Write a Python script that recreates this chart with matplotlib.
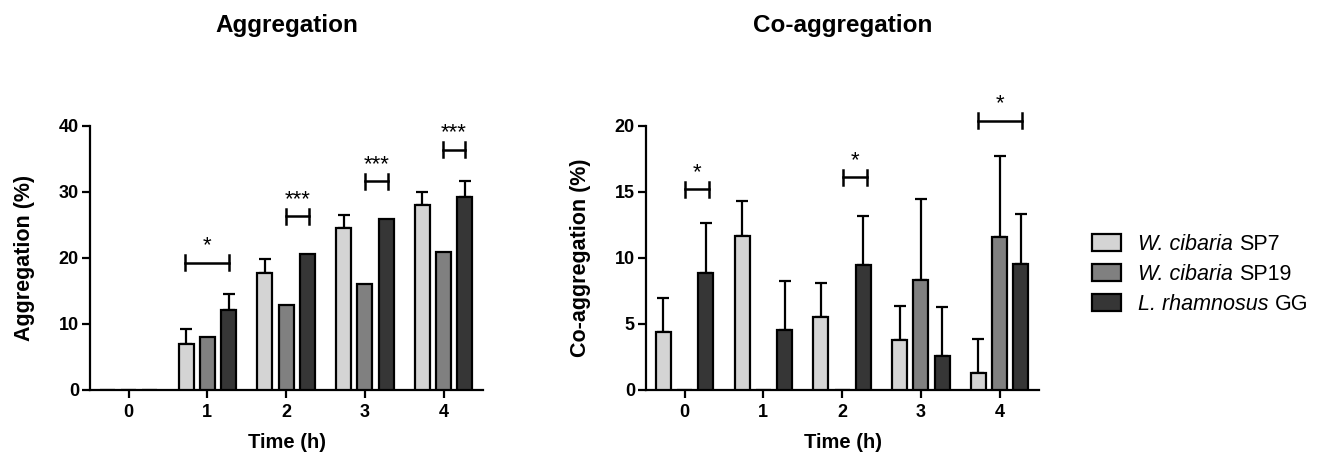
import numpy as np
import matplotlib
matplotlib.use("Agg")
import matplotlib.pyplot as plt
from matplotlib.patches import Rectangle

plt.rcParams['font.family'] = ['Liberation Sans', 'DejaVu Sans']

# data
tiempos = [0, 1, 2, 3, 4]
cepas_it = ['W. cibaria', 'W. cibaria', 'L. rhamnosus']
cepas_cod = ['SP7', 'SP19', 'GG']
colores = ['#d4d4d4', '#808080', '#363636']

agg_sp7 = [0, 6.9, 17.7, 24.6, 28.1]
agg_sp7_err = [0, 2.3, 2.2, 1.9, 1.9]
agg_sp19 = [0, 8.1, 12.9, 16.1, 20.9]
agg_sp19_err = [0, 0, 0, 0, 0]
agg_lgg = [0, 12.1, 20.6, 25.9, 29.3]
agg_lgg_err = [0, 2.4, 0, 0, 2.4]

coagg_sp7 = [4.4, 11.7, 5.5, 3.8, 1.3]
coagg_sp7_err = [2.6, 2.6, 2.6, 2.6, 2.6]
coagg_sp19 = [0, 0, 0, 8.3, 11.6]
coagg_sp19_err = [0, 0, 0, 6.2, 6.1]
coagg_lgg = [8.9, 4.55, 9.5, 2.6, 9.55]
coagg_lgg_err = [3.75, 3.7, 3.7, 3.7, 3.75]

# brackets de significancia: (tiempo, inicio, fin, altura, etiqueta)
agg_sig = [(1, -0.29, 0.28, 19.3, '*'), (2, 0.0, 0.29, 26.3, '***'),
           (3, 0.0, 0.29, 31.6, '***'), (4, -0.01, 0.27, 36.4, '***')]
coagg_sig = [(0, 0.01, 0.31, 15.2, '*'), (2, 0.01, 0.32, 16.1, '*'),
             (4, -0.28, 0.29, 20.4, '*')]

ancho = 0.19
desp = [-0.27, 0.0, 0.27]
W, H = 1320, 455


def dibujar(ax, series, errores, sig, ymax, paso, tick_h, ylabel):
    x = np.arange(len(tiempos))
    for i in range(3):
        ax.bar(x + desp[i], series[i], width=ancho, color=colores[i],
               edgecolor='black', linewidth=1.6, zorder=3)
        for xi, v, e in zip(x, series[i], errores[i]):
            if v > 0 and e > 0:
                ax.errorbar(xi + desp[i], v, yerr=[[0], [e]], fmt='none',
                            ecolor='black', elinewidth=1.6, capsize=4.5,
                            capthick=1.6, zorder=2)
    for t, a, b, h, lab in sig:
        ax.plot([t + a, t + a], [h - tick_h, h + tick_h], color='black', lw=1.8, clip_on=False)
        ax.plot([t + b, t + b], [h - tick_h, h + tick_h], color='black', lw=1.8, clip_on=False)
        ax.plot([t + a, t + b], [h, h], color='black', lw=1.8, clip_on=False)
        ax.text(t + (a + b) / 2, h + tick_h * 0.9, lab, ha='center', va='bottom',
                fontsize=16, clip_on=False)
    ax.set_xlim(-0.49, 4.5)
    ax.set_ylim(0, ymax)
    ax.set_xticks(x)
    ax.set_xticklabels([str(t) for t in tiempos])
    ax.set_yticks(np.arange(0, ymax + 0.1, paso))
    ax.spines['top'].set_visible(False)
    ax.spines['right'].set_visible(False)
    for s in ['left', 'bottom']:
        ax.spines[s].set_linewidth(1.6)
    ax.tick_params(width=1.6, length=6, labelsize=13)
    ax.tick_params(axis='y', pad=2)
    ax.tick_params(axis='x', pad=4)
    for lbl in ax.get_xticklabels() + ax.get_yticklabels():
        lbl.set_fontweight('bold')
    ax.set_xlabel('Time (h)', fontsize=14.5, fontweight='bold', labelpad=9)
    ax.set_ylabel(ylabel, fontsize=15.5, fontweight='bold', labelpad=17)


fig = plt.figure(figsize=(13.2, 4.55), dpi=100)
ax1 = fig.add_axes([90 / W, 65 / H, 393 / W, 264 / H])
ax2 = fig.add_axes([646 / W, 65 / H, 393 / W, 264 / H])

dibujar(ax1, [agg_sp7, agg_sp19, agg_lgg], [agg_sp7_err, agg_sp19_err, agg_lgg_err],
        agg_sig, 40, 10, 1.1, 'Aggregation (%)')
dibujar(ax2, [coagg_sp7, coagg_sp19, coagg_lgg], [coagg_sp7_err, coagg_sp19_err, coagg_lgg_err],
        coagg_sig, 20, 5, 0.55, 'Co-aggregation (%)')

fig.text((90 + 393 / 2) / W, 1 - 32 / H, 'Aggregation', ha='center', va='baseline',
         fontsize=17.5, fontweight='bold')
fig.text((646 + 393 / 2) / W, 1 - 32 / H, 'Co-aggregation', ha='center', va='baseline',
         fontsize=17.5, fontweight='bold')

# leyenda a mano (parte en cursiva y parte normal)
renderer = fig.canvas.get_renderer()
for i in range(3):
    yc = 242 + 30 * i
    fig.add_artist(Rectangle((1092 / W, 1 - (yc + 8.5) / H), 29 / W, 17 / H,
                             transform=fig.transFigure, facecolor=colores[i],
                             edgecolor='black', linewidth=1.6))
    t_it = fig.text(1138 / W, 1 - yc / H, cepas_it[i] + ' ', style='italic',
                    va='center_baseline', fontsize=15.5)
    ext = t_it.get_window_extent(renderer)
    fig.text(ext.x1 / W, 1 - yc / H, cepas_cod[i], va='center_baseline', fontsize=15.5)

fig.savefig('out.png', dpi=100)
